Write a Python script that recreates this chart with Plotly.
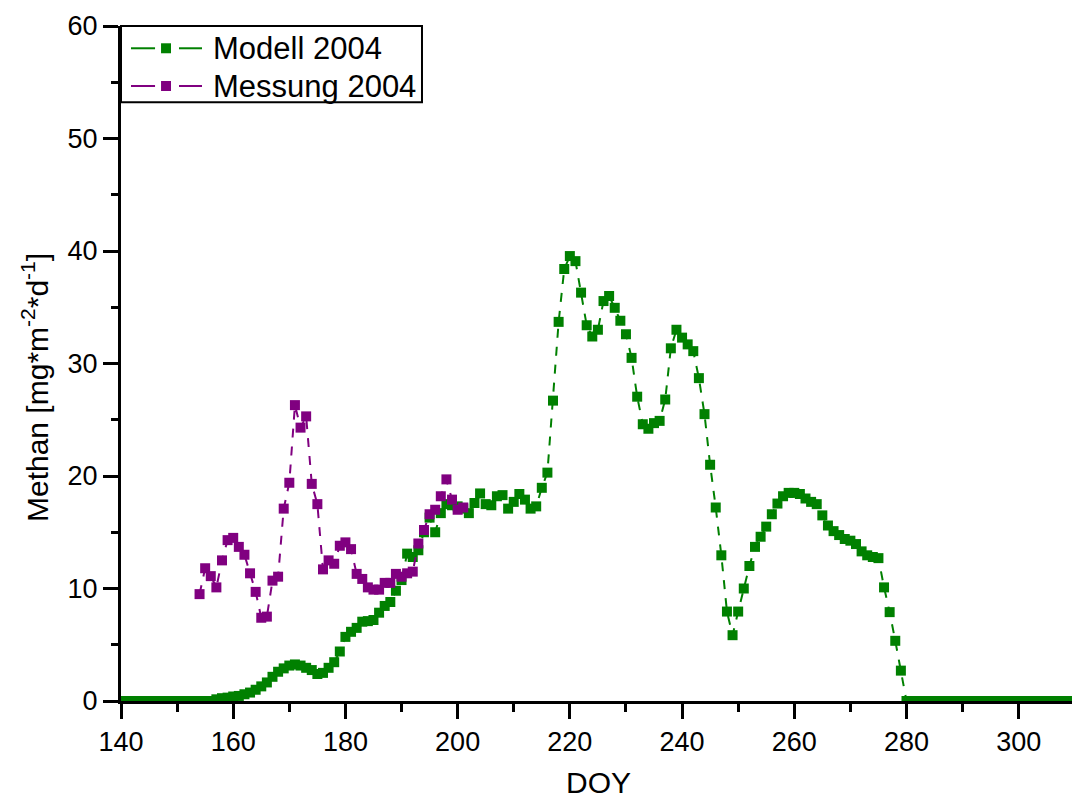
import plotly.graph_objects as go

# Day of year for the model run and for the field campaign
doy_model = list(range(140, 311))
doy_meas = list(range(154, 202))

# Modelled methane flux [mg m-2 d-1], one value per day 140..310
methan_model = [
    0, 0, 0, 0, 0, 0, 0, 0, 0, 0,
    0, 0, 0, 0, 0, 0, 0, 0.15, 0.25, 0.3,
    0.4, 0.45, 0.6, 0.75, 1.0, 1.3, 1.65, 2.15, 2.6, 2.9,
    3.15, 3.25, 3.15, 2.95, 2.75, 2.4, 2.5, 2.95, 3.45, 4.4,
    5.7, 6.15, 6.5, 7.05, 7.1, 7.2, 7.85, 8.45, 8.8, 9.8,
    10.75, 13.1, 12.8, 13.4, 15.0, 16.3, 15.0, 16.7, 17.5, 17.4,
    17.3, 17.1, 16.7, 17.6, 18.45, 17.5, 17.4, 18.2, 18.3, 17.1,
    17.7, 18.4, 17.9, 17.1, 17.3, 18.95, 20.3, 26.7, 33.7, 38.4,
    39.55, 39.1, 36.3, 33.4, 32.4, 33.0, 35.55, 36.0, 34.95, 33.8,
    32.6, 30.5, 27.05, 24.6, 24.2, 24.7, 24.9, 26.8, 31.35, 33.0,
    32.3, 31.7, 31.1, 28.7, 25.5, 21.0, 17.2, 12.95, 7.95, 5.85,
    7.95, 10.0, 12.0, 13.7, 14.6, 15.5, 16.6, 17.55, 18.2, 18.5,
    18.5, 18.4, 18.0, 17.7, 17.5, 16.5, 15.6, 15.1, 14.75, 14.4,
    14.25, 13.95, 13.3, 12.95, 12.8, 12.7, 10.1, 7.9, 5.35, 2.7,
    0, 0, 0, 0, 0, 0, 0, 0, 0, 0,
    0, 0, 0, 0, 0, 0, 0, 0, 0, 0,
    0, 0, 0, 0, 0, 0, 0, 0, 0, 0, 0,
]

# Measured methane flux [mg m-2 d-1], days 154..201
methan_meas = [
    9.5, 11.8, 11.1, 10.1, 12.5, 14.3,
    14.5, 13.7, 13.0, 11.35, 9.7, 7.4, 7.5, 10.7, 11.05, 17.1,
    19.4, 26.3, 24.3, 25.3, 19.3, 17.5, 11.7, 12.5, 12.2, 13.8,
    14.1, 13.5, 11.3, 10.85, 10.1, 9.9, 9.9, 10.5, 10.5, 11.3,
    11.05, 11.35, 11.5, 14.0, 15.2, 16.6, 17.0, 18.2, 19.7, 17.9,
    17.0, 17.2,
]

x_ticks = [140, 160, 180, 200, 220, 240, 260, 280, 300]
y_ticks = [0, 10, 20, 30, 40, 50, 60]

series_names = ["Modell 2004", "Messung 2004"]
series_colors = ["#008000", "#800080"]
FONT = "Liberation Sans, Arial, sans-serif"

fig = go.Figure()
for name, color, xs, ys in zip(series_names, series_colors,
                               [doy_model, doy_meas],
                               [methan_model, methan_meas]):
    fig.add_trace(go.Scatter(
        x=xs, y=ys, mode="lines+markers", name=name, showlegend=False,
        line=dict(color=color, width=2, dash="dash"),
        marker=dict(symbol="square", size=10, color=color),
    ))

axis_common = dict(
    showgrid=False, zeroline=False, showline=True, linecolor="black",
    linewidth=3, ticks="outside", ticklen=15, tickwidth=3, tickcolor="black",
    tickfont=dict(family=FONT, size=27, color="black"),
)

# Framed key in the upper-left corner: "— ■ —" sample followed by the name
shapes = [dict(type="rect", xref="paper", yref="paper",
               x0=0.0, x1=0.3165, y0=0.887, y1=1.0,
               line=dict(color="black", width=2), fillcolor="white",
               layer="above")]
annotations = []
row_y = [0.967, 0.9111]
for name, color, yc in zip(series_names, series_colors, row_y):
    for x0, x1 in [(0.0105, 0.0358), (0.061, 0.0852)]:
        shapes.append(dict(type="line", xref="paper", yref="paper",
                           x0=x0, x1=x1, y0=yc, y1=yc,
                           line=dict(color=color, width=2), layer="above"))
    shapes.append(dict(type="rect", xref="paper", yref="paper",
                       x0=0.0421, x1=0.0526, y0=yc - 0.0074, y1=yc + 0.0074,
                       line=dict(width=0), fillcolor=color, layer="above"))
    annotations.append(dict(text=name, xref="paper", yref="paper",
                            x=0.0945, y=yc, xanchor="left", yanchor="middle",
                            showarrow=False,
                            font=dict(family=FONT, size=31, color="black")))

annotations += [
    dict(text="DOY", xref="paper", yref="paper", x=0.502, y=-0.1205,
         xanchor="center", yanchor="middle", showarrow=False,
         font=dict(family=FONT, size=30, color="black")),
    dict(text="Methan [mg*m<sup>-2</sup>*d<sup>-1</sup>]",
         xref="paper", yref="paper", x=-0.0904, y=0.4637,
         xanchor="center", yanchor="middle", showarrow=False,
         textangle=-90,
         font=dict(family=FONT, size=30, color="black")),
]

fig.update_layout(
    width=1072, height=799,
    margin=dict(l=121, r=0, t=26, b=98),
    paper_bgcolor="white", plot_bgcolor="white",
    font=dict(family=FONT, color="black"),
    showlegend=False,
    xaxis=dict(
        range=[140, 309.5], tickvals=x_ticks,
        minor=dict(dtick=10, tick0=140, ticks="outside", ticklen=8,
                   tickwidth=3, tickcolor="black"),
        **axis_common,
    ),
    yaxis=dict(
        range=[0, 60], tickvals=y_ticks,
        minor=dict(dtick=5, tick0=0, ticks="outside", ticklen=7,
                   tickwidth=3, tickcolor="black"),
        **axis_common,
    ),
    shapes=shapes,
    annotations=annotations,
)

fig.write_html("out.html")
